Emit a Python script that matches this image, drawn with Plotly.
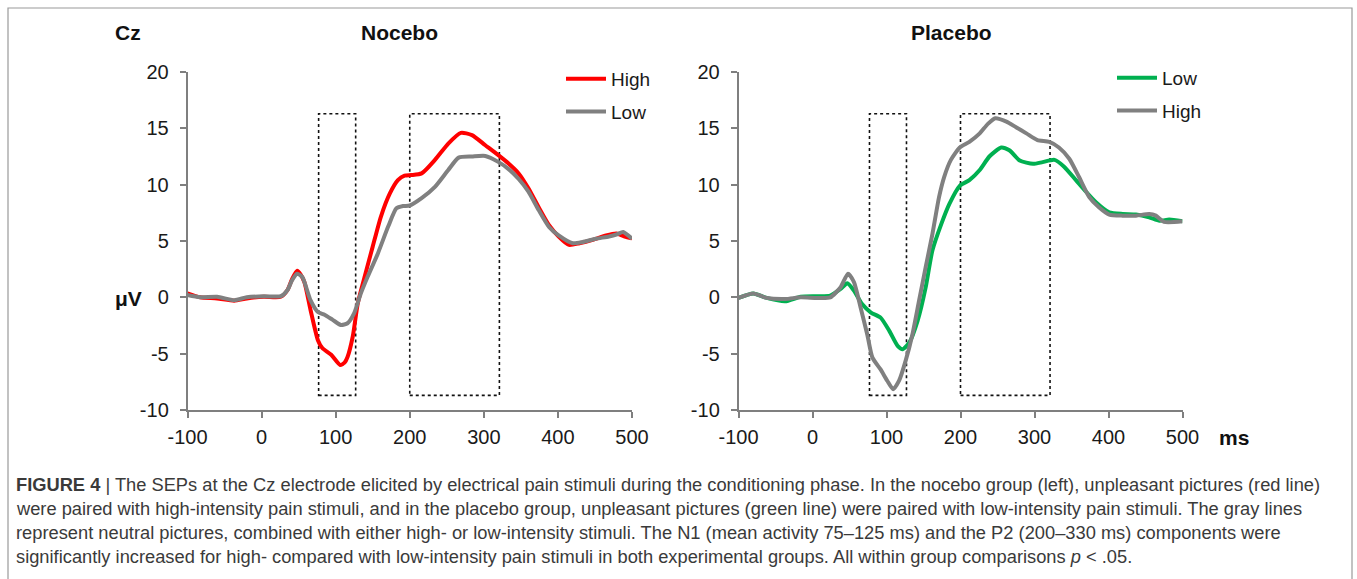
import plotly.graph_objects as go

# ---------------- data ----------------
noc_high_ms = [-100, -83, -60, -37, -20, 3, 26, 35, 41, 48, 53, 58, 66, 76, 82, 94, 106, 112, 116, 123, 130, 139, 150,
               161, 173, 184, 193, 202, 216, 234, 252, 269, 284, 302, 320, 333, 347, 360, 374, 388, 401, 415, 429, 447,
               465, 479, 490, 500]
noc_high_uv = [0.35, 0.0, -0.1, -0.3, -0.1, 0.05, 0.05, 0.65, 1.6, 2.36, 2.0, 1.3, -1.1, -3.8, -4.5, -5.1, -6.0, -5.8,
               -5.3, -3.5, -0.5, 1.8, 4.5, 7.15, 9.2, 10.4, 10.8, 10.85, 11.0, 12.2, 13.65, 14.6, 14.4, 13.5, 12.6, 11.9,
               11.0, 9.7, 8.0, 6.4, 5.4, 4.65, 4.8, 5.1, 5.5, 5.67, 5.4, 5.25]

noc_low_ms = [-100, -83, -60, -37, -20, 3, 26, 35, 41, 48, 55, 66, 76, 85, 96, 107, 116, 125, 134, 143, 157, 171, 182,
              191, 200, 216, 234, 252, 266, 284, 302, 320, 333, 347, 360, 374, 388, 401, 420, 433, 451, 469, 480, 488, 500]
noc_low_uv = [0.2, 0.0, 0.05, -0.25, 0.0, 0.1, 0.1, 0.65, 1.5, 2.1, 1.8, -0.25, -1.3, -1.55, -2.0, -2.45, -2.3, -1.4,
              0.35, 1.8, 3.9, 6.3, 7.9, 8.1, 8.15, 8.8, 9.8, 11.3, 12.4, 12.5, 12.55, 12.0, 11.4, 10.5, 9.4, 7.75, 6.25,
              5.5, 4.8, 4.9, 5.2, 5.4, 5.6, 5.8, 5.2]

pla_low_ms = [-100, -80, -62, -37, -16, 6, 24, 38, 47, 56, 67, 79, 92, 104, 115, 122, 131, 142, 153, 162, 174, 185, 199,
              212, 226, 239, 255, 266, 280, 298, 311, 327, 340, 356, 370, 383, 401, 419, 437, 455, 469, 482, 500]
pla_low_uv = [-0.05, 0.35, -0.05, -0.35, 0.05, 0.1, 0.15, 0.75, 1.25, 0.6, -0.6, -1.35, -1.8, -3.0, -4.3, -4.6, -4.0,
              -2.1, 0.9, 4.15, 6.5, 8.3, 9.9, 10.4, 11.3, 12.5, 13.3, 13.05, 12.15, 11.85, 12.0, 12.2, 11.6, 10.4, 9.35,
              8.45, 7.55, 7.4, 7.35, 7.1, 6.8, 6.9, 6.75]

pla_high_ms = [-100, -80, -62, -37, -16, 6, 24, 38, 48, 56, 65, 74, 81, 92, 101, 109, 117, 126, 135, 144, 153, 162, 171,
               178, 187, 199, 212, 226, 237, 247, 262, 275, 289, 304, 320, 333, 347, 360, 374, 387, 401, 419, 437, 455,
               464, 475, 500]
pla_high_uv = [-0.05, 0.35, -0.05, -0.15, 0.0, -0.05, 0.0, 0.9, 2.1, 1.35, -0.9, -3.3, -5.35, -6.4, -7.4, -8.15, -7.4,
               -5.6, -3.3, -0.3, 2.7, 5.6, 8.9, 10.7, 12.2, 13.3, 13.8, 14.55, 15.4, 15.9, 15.6, 15.1, 14.55, 13.95, 13.8,
               13.3, 12.3, 10.7, 8.9, 8.0, 7.35, 7.25, 7.25, 7.4, 7.25, 6.7, 6.75]

x_ticks = [-100, 0, 100, 200, 300, 400, 500]
x_tick_labels = ["-100", "0", "100", "200", "300", "400", "500"]
y_ticks = [-10, -5, 0, 5, 10, 15, 20]
y_tick_labels = ["-10", "-5", "0", "5", "10", "15", "20"]

n1_window = [77, 127]
p2_window = [200, 321]
box_range = [-8.7, 16.3]

panel_titles = ["Nocebo", "Placebo"]
caption_lines = [
    "<b>FIGURE 4</b> | The SEPs at the Cz electrode elicited by electrical pain stimuli during the conditioning phase. "
    "In the nocebo group (left), unpleasant pictures (red line)",
    "were paired with high-intensity pain stimuli, and in the placebo group, unpleasant pictures (green line) were paired "
    "with low-intensity pain stimuli. The gray lines",
    "represent neutral pictures, combined with either high- or low-intensity stimuli. The N1 (mean activity 75–125 ms) "
    "and the P2 (200–330 ms) components were",
    "significantly increased for high- compared with low-intensity pain stimuli in both experimental groups. "
    "All within group comparisons <i>p</i> &lt; .05.",
]

# ---------------- figure ----------------
W, H = 1357, 579
RED, GRAY, GREEN = "#FF0000", "#808080", "#00B050"
FONT = "Liberation Sans, Arial, sans-serif"


def px(x):
    return x / W


def py(y):
    return 1 - y / H


fig = go.Figure()
lw = 4
fig.add_trace(go.Scatter(x=noc_high_ms, y=noc_high_uv, mode="lines", name="High",
                         line=dict(color=RED, width=lw, shape="spline", smoothing=0.6),
                         xaxis="x", yaxis="y", legend="legend", legendgroup="a"))
fig.add_trace(go.Scatter(x=noc_low_ms, y=noc_low_uv, mode="lines", name="Low",
                         line=dict(color=GRAY, width=lw, shape="spline", smoothing=0.6),
                         xaxis="x", yaxis="y", legend="legend", legendgroup="b"))
fig.add_trace(go.Scatter(x=pla_low_ms, y=pla_low_uv, mode="lines", name="Low",
                         line=dict(color=GREEN, width=lw, shape="spline", smoothing=0.6),
                         xaxis="x2", yaxis="y2", legend="legend2", legendgroup="c"))
fig.add_trace(go.Scatter(x=pla_high_ms, y=pla_high_uv, mode="lines", name="High",
                         line=dict(color=GRAY, width=lw, shape="spline", smoothing=0.6),
                         xaxis="x2", yaxis="y2", legend="legend2", legendgroup="d"))

axis_common = dict(showgrid=False, zeroline=False, showline=True, linecolor="#7F7F7F", linewidth=1.5,
                   ticks="outside", ticklen=6, tickwidth=1.5, tickcolor="#7F7F7F", automargin=False,
                   tickfont=dict(family=FONT, size=20, color="#1a1a1a"))

ydom = [py(410), py(72)]
fig.update_layout(
    xaxis=dict(domain=[px(187.5), px(632)], range=[-100, 500], tickvals=x_ticks, ticktext=x_tick_labels,
               anchor="y", ticklabelstandoff=2, **axis_common),
    yaxis=dict(domain=ydom, range=[-10, 20], tickvals=y_ticks, ticktext=y_tick_labels, anchor="x",
               ticklabelstandoff=7, **axis_common),
    xaxis2=dict(domain=[px(738.5), px(1182.5)], range=[-100, 500], tickvals=x_ticks, ticktext=x_tick_labels,
                anchor="y2", ticklabelstandoff=2, **axis_common),
    yaxis2=dict(domain=ydom, range=[-10, 20], tickvals=y_ticks, ticktext=y_tick_labels, anchor="x2",
                ticklabelstandoff=7, **axis_common),
)

leg_common = dict(font=dict(family=FONT, size=19, color="#1a1a1a"), bgcolor="rgba(0,0,0,0)",
                  traceorder="grouped", tracegroupgap=5, itemwidth=40,
                  xanchor="left", yanchor="top")
fig.update_layout(
    legend=dict(x=px(561), y=py(60), **leg_common),
    legend2=dict(x=px(1112), y=py(59), **leg_common),
)

# dotted analysis windows
for xr, yr in (("x", "y"), ("x2", "y2")):
    for win in (n1_window, p2_window):
        fig.add_shape(type="rect", xref=xr, yref=yr, x0=win[0], x1=win[1], y0=box_range[0], y1=box_range[1],
                      line=dict(color="#111111", width=1.6, dash="dot"), fillcolor="rgba(0,0,0,0)", layer="below")

# outer frame
fig.add_shape(type="rect", xref="paper", yref="paper", x0=px(8), x1=px(1352), y0=-0.05, y1=py(8),
              line=dict(color="#9a9a9a", width=1.2), fillcolor="rgba(0,0,0,0)")

bold = dict(family=FONT, size=21, color="#111111")
ann = [
    dict(text="<b>Cz</b>", x=px(128), y=py(33)),
    dict(text="<b>%s</b>" % panel_titles[0], x=px(399), y=py(33)),
    dict(text="<b>%s</b>" % panel_titles[1], x=px(951), y=py(32)),
    dict(text="<b>μV</b>", x=px(128), y=py(298)),
    dict(text="<b>ms</b>", x=px(1234), y=py(437)),
]
for a in ann:
    fig.add_annotation(xref="paper", yref="paper", xanchor="center", yanchor="middle", showarrow=False,
                       font=bold, **a)

cap_y = [484, 508, 532, 556]
for t, yy in zip(caption_lines, cap_y):
    fig.add_annotation(text=t, xref="paper", yref="paper", x=px(14), y=py(yy), xanchor="left", yanchor="middle",
                       showarrow=False, align="left",
                       font=dict(family=FONT, size=18.3, color="#3a3a3a"))

fig.update_layout(width=W, height=H, autosize=False, margin=dict(l=0, r=0, t=0, b=0, autoexpand=False),
                  paper_bgcolor="white", plot_bgcolor="white", showlegend=True)

fig.write_html("out.html")
